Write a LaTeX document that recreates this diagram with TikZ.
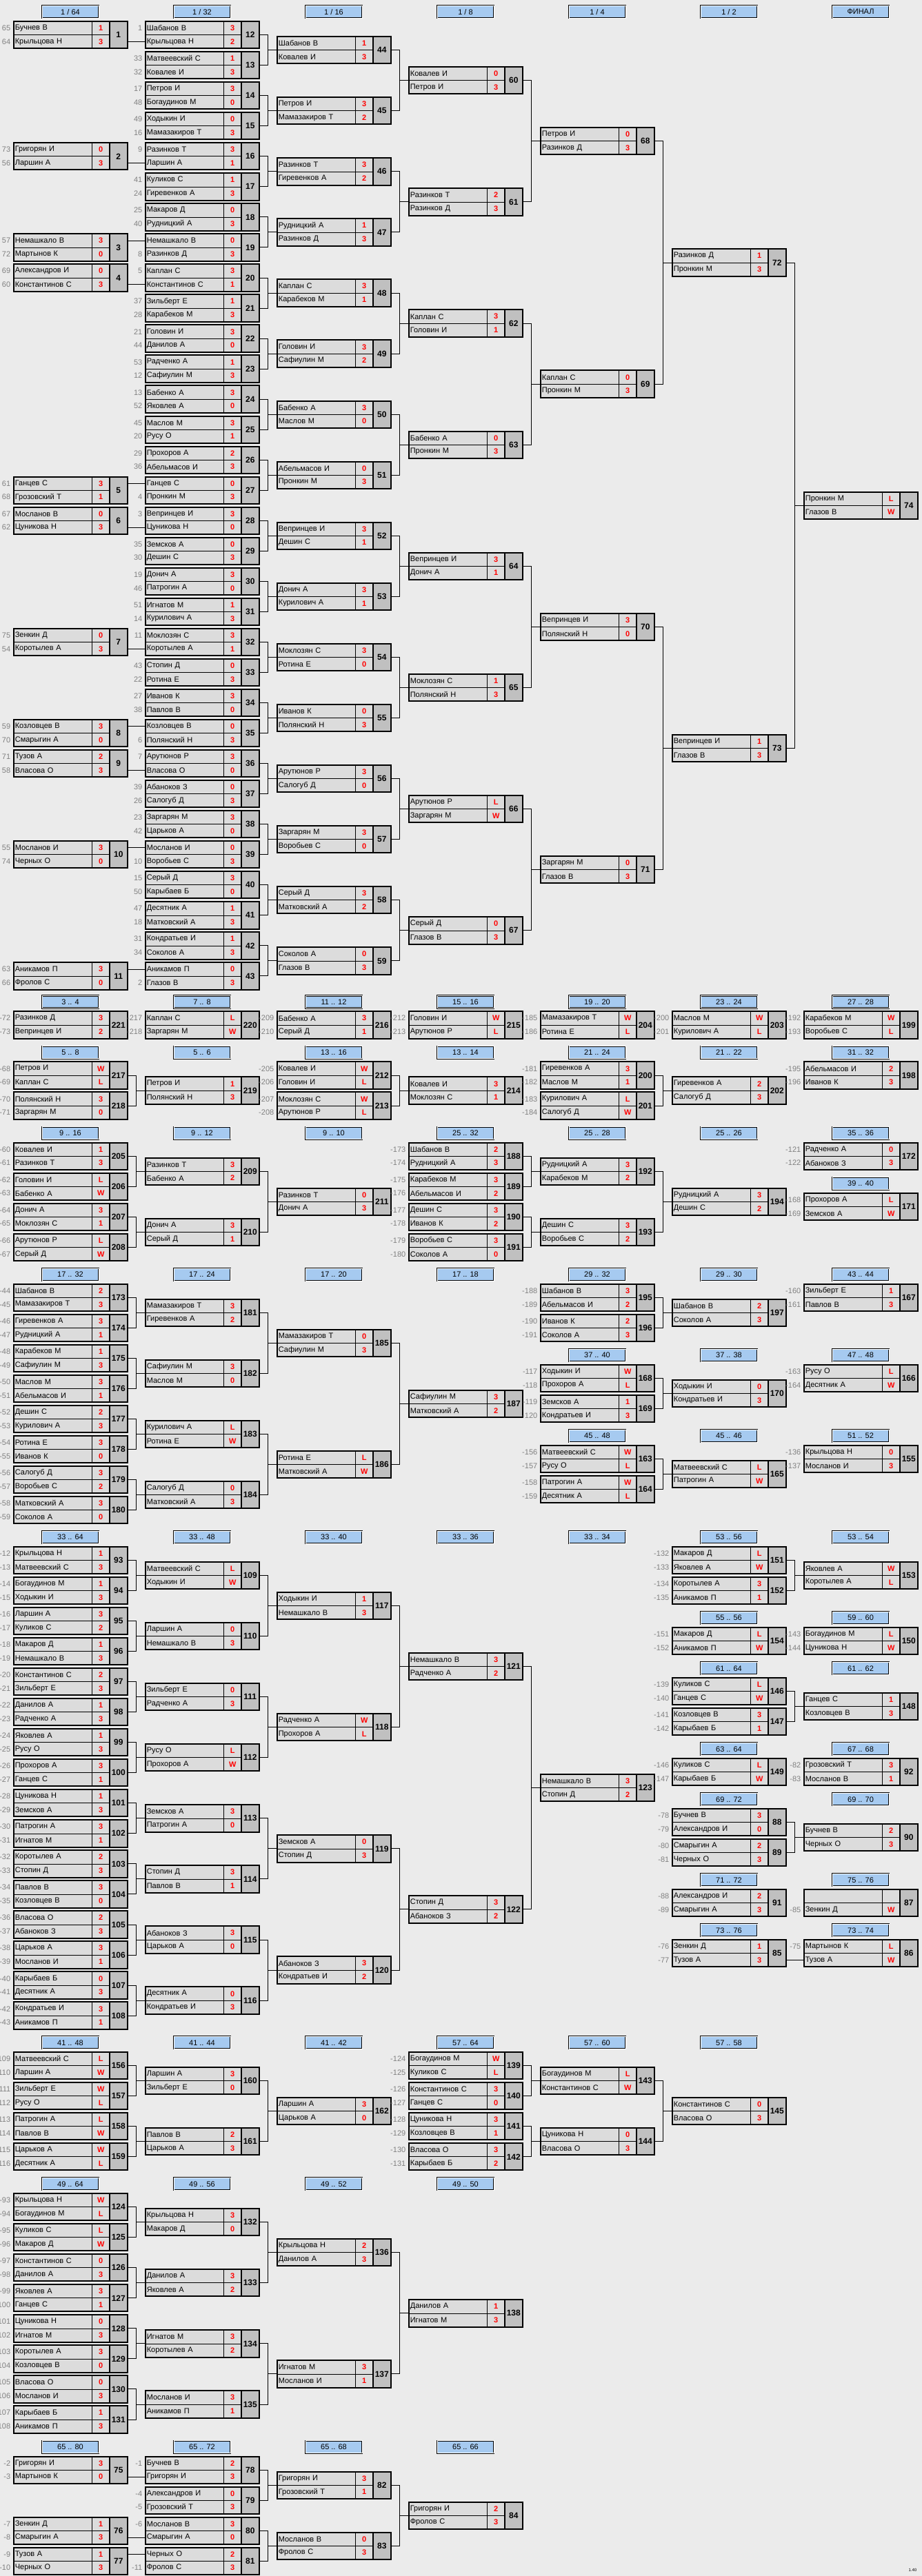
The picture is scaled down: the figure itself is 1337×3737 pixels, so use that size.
\documentclass[tikz,border=0pt]{standalone}
\usepackage{fontspec}
\setmainfont{Liberation Sans}
\usepackage{tikz}
\definecolor{bgcol}{RGB}{235,235,235}
\definecolor{cellgray}{RGB}{220,220,220}
\definecolor{numgray}{RGB}{192,192,192}
\definecolor{hdrblue}{RGB}{166,202,240}
\definecolor{seedgray}{RGB}{128,128,128}
\definecolor{scorered}{RGB}{255,0,0}
\newcommand{\namefont}{\fontsize{8.25}{9.5}\selectfont}
\newcommand{\scorefont}{\fontsize{8.25}{9.5}\selectfont\bfseries}
\newcommand{\numfont}{\fontsize{9}{10}\selectfont\bfseries}
\tikzset{
  mbox/.style={rectangle,inner sep=0pt,outer sep=0pt,minimum width=123.75pt,minimum height=29.5pt,fill=cellgray},
  ncell/.style={rectangle,draw=black,line width=0.5pt,fill=cellgray,inner xsep=1.75pt,inner ysep=0pt,outer sep=0pt,text width=82pt,align=left,minimum height=14.75pt,font=\namefont},
  scell/.style={rectangle,draw=black,line width=0.5pt,fill=cellgray,inner sep=0pt,outer sep=0pt,minimum width=19.1pt,minimum height=14.75pt,font=\scorefont,text=scorered},
  numcell/.style={rectangle,draw=black,line width=1.5pt,fill=numgray,inner sep=0pt,outer sep=0pt,minimum width=19.1pt,minimum height=29.5pt,font=\numfont},
  seedno/.style={inner sep=0pt,font=\namefont,text=seedgray},
  hdr/.style={rectangle,fill=hdrblue,draw=black,line width=0.45pt,double=white,double distance=0.7pt,minimum width=61.5pt,minimum height=13.5pt,inner sep=0pt,font=\namefont},
  conn/.style={draw=black,line width=0.7pt},
  frame/.style={draw=black,line width=1.5pt}
}
% one match: number, column, top, seed/name/score of both rows
\newcommand{\mbx}[9]{%
  \node[mbox,anchor=north west] (m#1) at ({19.5+191*#2},{#3}) {};
  \node[ncell,anchor=north west] (m#1a) at (m#1.north west) {#5};
  \node[ncell,anchor=north west] (m#1b) at (m#1a.south west) {#8};
  \node[scell,anchor=west] (m#1x) at (m#1a.east) {#6};
  \node[scell,anchor=west] (m#1y) at (m#1b.east) {#9};
  \node[numcell,anchor=north east] (m#1n) at (m#1.north east) {#1};
  \node[seedno,anchor=east,xshift=-3pt] (m#1p) at (m#1a.west) {#4};
  \node[seedno,anchor=east,xshift=-3pt] (m#1q) at (m#1b.west) {#7};
  \draw[frame] (m#1.north west) rectangle (m#1.south east);
}
\newcommand{\mblock}[2]{%
  \def\yo{#1}%
  \foreach \mN/\mC/\mS/\pA/\nA/\rA/\pB/\nB/\rB in {#2}{%
    \mbx{\mN}{\mC}{\yo+44.04*\mS}{\pA}{\nA}{\rA}{\pB}{\nB}{\rB}}%
}
\newcommand{\hrow}[3]{%
  \foreach \hC/\hT in {#3}{\node[hdr] (h#1\hC) at ({102+191*\hC},{#2-13.8}) {\hT};}%
}
\newcommand{\br}[3]{%
  \draw[conn] (m#1.east) -- ++(13,0) |- (m#3.west);
  \draw[conn] (m#2.east) -- ++(13,0) |- (m#3.west);
}
\newcommand{\brs}[3]{%
  \foreach \bk in {1,...,#2}{%
    \pgfmathtruncatemacro\brA{#1+2*(\bk-1)}%
    \pgfmathtruncatemacro\brB{\brA+1}%
    \pgfmathtruncatemacro\brT{#3+\bk-1}%
    \br{\brA}{\brB}{\brT}}%
}
\newcommand{\strt}[2]{\draw[conn] (m#1.east |- #2.west) -- (#2.west);}

\begin{document}
\begin{tikzpicture}[x=0.75pt,y=-0.75pt]
\path[use as bounding box,fill=bgcol] (0,0) rectangle (1337,3737);

% main bracket
\hrow{M}{31}{0/{1 / 64},1/{1 / 32},2/{1 / 16},3/{1 / 8},4/{1 / 4},5/{1 / 2},6/ФИНАЛ}
\mblock{31}{
1/0/0/65/Бучнев В/1/64/Крыльцова Н/3,
2/0/4/73/Григорян И/0/56/Ларшин А/3,
3/0/7/57/Немашкало В/3/72/Мартынов К/0,
4/0/8/69/Александров И/0/60/Константинов С/3,
5/0/15/61/Ганцев С/3/68/Грозовский Т/1,
6/0/16/67/Мосланов В/0/62/Цуникова Н/3,
7/0/20/75/Зенкин Д/0/54/Коротылев А/3,
8/0/23/59/Козловцев В/3/70/Смарыгин А/0,
9/0/24/71/Тузов А/2/58/Власова О/3,
10/0/27/55/Мосланов И/3/74/Черных О/0,
11/0/31/63/Аникамов П/3/66/Фролов С/0,
12/1/0/1/Шабанов В/3//Крыльцова Н/2,
13/1/1/33/Матвеевский С/1/32/Ковалев И/3,
14/1/2/17/Петров И/3/48/Богаудинов М/0,
15/1/3/49/Ходыкин И/0/16/Мамазакиров Т/3,
16/1/4/9/Разинков Т/3//Ларшин А/1,
17/1/5/41/Куликов С/1/24/Гиревенков А/3,
18/1/6/25/Макаров Д/0/40/Рудницкий А/3,
19/1/7//Немашкало В/0/8/Разинков Д/3,
20/1/8/5/Каплан С/3//Константинов С/1,
21/1/9/37/Зильберт Е/1/28/Карабеков М/3,
22/1/10/21/Головин И/3/44/Данилов А/0,
23/1/11/53/Радченко А/1/12/Сафиулин М/3,
24/1/12/13/Бабенко А/3/52/Яковлев А/0,
25/1/13/45/Маслов М/3/20/Русу О/1,
26/1/14/29/Прохоров А/2/36/Абельмасов И/3,
27/1/15//Ганцев С/0/4/Пронкин М/3,
28/1/16/3/Вепринцев И/3//Цуникова Н/0,
29/1/17/35/Земсков А/0/30/Дешин С/3,
30/1/18/19/Донич А/3/46/Патрогин А/0,
31/1/19/51/Игнатов М/1/14/Курилович А/3,
32/1/20/11/Моклозян С/3//Коротылев А/1,
33/1/21/43/Стопин Д/0/22/Ротина Е/3,
34/1/22/27/Иванов К/3/38/Павлов В/0,
35/1/23//Козловцев В/0/6/Полянский Н/3,
36/1/24/7/Арутюнов Р/3//Власова О/0,
37/1/25/39/Абаноков З/0/26/Салогуб Д/3,
38/1/26/23/Заргарян М/3/42/Царьков А/0,
39/1/27//Мосланов И/0/10/Воробьев С/3,
40/1/28/15/Серый Д/3/50/Карыбаев Б/0,
41/1/29/47/Десятник А/1/18/Матковский А/3,
42/1/30/31/Кондратьев И/1/34/Соколов А/3,
43/1/31//Аникамов П/0/2/Глазов В/3,
44/2/0.5//Шабанов В/1//Ковалев И/3,
45/2/2.5//Петров И/3//Мамазакиров Т/2,
46/2/4.5//Разинков Т/3//Гиревенков А/2,
47/2/6.5//Рудницкий А/1//Разинков Д/3,
48/2/8.5//Каплан С/3//Карабеков М/1,
49/2/10.5//Головин И/3//Сафиулин М/2,
50/2/12.5//Бабенко А/3//Маслов М/0,
51/2/14.5//Абельмасов И/0//Пронкин М/3,
52/2/16.5//Вепринцев И/3//Дешин С/1,
53/2/18.5//Донич А/3//Курилович А/1,
54/2/20.5//Моклозян С/3//Ротина Е/0,
55/2/22.5//Иванов К/0//Полянский Н/3,
56/2/24.5//Арутюнов Р/3//Салогуб Д/0,
57/2/26.5//Заргарян М/3//Воробьев С/0,
58/2/28.5//Серый Д/3//Матковский А/2,
59/2/30.5//Соколов А/0//Глазов В/3,
60/3/1.5//Ковалев И/0//Петров И/3,
61/3/5.5//Разинков Т/2//Разинков Д/3,
62/3/9.5//Каплан С/3//Головин И/1,
63/3/13.5//Бабенко А/0//Пронкин М/3,
64/3/17.5//Вепринцев И/3//Донич А/1,
65/3/21.5//Моклозян С/1//Полянский Н/3,
66/3/25.5//Арутюнов Р/L//Заргарян М/W,
67/3/29.5//Серый Д/0//Глазов В/3,
68/4/3.5//Петров И/0//Разинков Д/3,
69/4/11.5//Каплан С/0//Пронкин М/3,
70/4/19.5//Вепринцев И/3//Полянский Н/0,
71/4/27.5//Заргарян М/0//Глазов В/3,
72/5/7.5//Разинков Д/1//Пронкин М/3,
73/5/23.5//Вепринцев И/1//Глазов В/3,
74/6/15.5//Пронкин М/L//Глазов В/W}
\strt{1}{m12b} \strt{2}{m16b} \strt{3}{m19a} \strt{4}{m20b}
\strt{5}{m27a} \strt{6}{m28b} \strt{7}{m32b} \strt{8}{m35a}
\strt{9}{m36b} \strt{10}{m39a} \strt{11}{m43a}
\brs{12}{16}{44} \brs{44}{8}{60} \brs{60}{4}{68} \brs{68}{2}{72} \br{72}{73}{74}

% places 3..40
\hrow{A}{1467.3}{0/{3 .. 4},1/{7 .. 8},2/{11 .. 12},3/{15 .. 16},4/{19 .. 20},5/{23 .. 24},6/{27 .. 28}}
\mblock{1467.3}{
221/0/0/-72/Разинков Д/3/-73/Вепринцев И/2,
220/1/0/-217/Каплан С/L/-218/Заргарян М/W,
216/2/0/-209/Бабенко А/3/-210/Серый Д/1,
215/3/0/-212/Головин И/W/-213/Арутюнов Р/L,
204/4/0/-185/Мамазакиров Т/W/-186/Ротина Е/L,
203/5/0/-200/Маслов М/W/-201/Курилович А/L,
199/6/0/-192/Карабеков М/W/-193/Воробьев С/L}

\hrow{B}{1540.4}{0/{5 .. 8},1/{5 .. 6},2/{13 .. 16},3/{13 .. 14},4/{21 .. 24},5/{21 .. 22},6/{31 .. 32}}
\mblock{1540.4}{
217/0/0/-68/Петров И/W/-69/Каплан С/L,
218/0/1/-70/Полянский Н/3/-71/Заргарян М/0,
219/1/0.5//Петров И/1//Полянский Н/3,
212/2/0/-205/Ковалев И/W/-206/Головин И/L,
213/2/1/-207/Моклозян С/W/-208/Арутюнов Р/L,
214/3/0.5//Ковалев И/3//Моклозян С/1,
200/4/0/-181/Гиревенков А/3/-182/Маслов М/1,
201/4/1/-183/Курилович А/L/-184/Салогуб Д/W,
202/5/0.5//Гиревенков А/2//Салогуб Д/3,
198/6/0/-195/Абельмасов И/2/-196/Иванов К/3}
\br{217}{218}{219} \br{212}{213}{214} \br{200}{201}{202}

\hrow{C}{1657.6}{0/{9 .. 16},1/{9 .. 12},2/{9 .. 10},3/{25 .. 32},4/{25 .. 28},5/{25 .. 26},6/{35 .. 36}}
\mblock{1657.6}{
205/0/0/-60/Ковалев И/1/-61/Разинков Т/3,
206/0/1/-62/Головин И/L/-63/Бабенко А/W,
207/0/2/-64/Донич А/3/-65/Моклозян С/1,
208/0/3/-66/Арутюнов Р/L/-67/Серый Д/W,
209/1/0.5//Разинков Т/3//Бабенко А/2,
210/1/2.5//Донич А/3//Серый Д/1,
211/2/1.5//Разинков Т/0//Донич А/3,
188/3/0/-173/Шабанов В/2/-174/Рудницкий А/3,
189/3/1/-175/Карабеков М/3/-176/Абельмасов И/2,
190/3/2/-177/Дешин С/3/-178/Иванов К/2,
191/3/3/-179/Воробьев С/3/-180/Соколов А/0,
192/4/0.5//Рудницкий А/3//Карабеков М/2,
193/4/2.5//Дешин С/3//Воробьев С/2,
194/5/1.5//Рудницкий А/3//Дешин С/2,
172/6/0/-121/Радченко А/0/-122/Абаноков З/3}
\brs{205}{2}{209} \br{209}{210}{211} \brs{188}{2}{192} \br{192}{193}{194}

\hrow{Cb}{1730.7}{6/{39 .. 40}}
\mblock{1730.7}{171/6/0/-168/Прохоров А/L/-169/Земсков А/W}

\hrow{D}{1862.8}{0/{17 .. 32},1/{17 .. 24},2/{17 .. 20},3/{17 .. 18},4/{29 .. 32},5/{29 .. 30},6/{43 .. 44}}
\mblock{1862.8}{
173/0/0/-44/Шабанов В/2/-45/Мамазакиров Т/3,
174/0/1/-46/Гиревенков А/3/-47/Рудницкий А/1,
175/0/2/-48/Карабеков М/1/-49/Сафиулин М/3,
176/0/3/-50/Маслов М/3/-51/Абельмасов И/1,
177/0/4/-52/Дешин С/2/-53/Курилович А/3,
178/0/5/-54/Ротина Е/3/-55/Иванов К/0,
179/0/6/-56/Салогуб Д/3/-57/Воробьев С/2,
180/0/7/-58/Матковский А/3/-59/Соколов А/0,
181/1/0.5//Мамазакиров Т/3//Гиревенков А/2,
182/1/2.5//Сафиулин М/3//Маслов М/0,
183/1/4.5//Курилович А/L//Ротина Е/W,
184/1/6.5//Салогуб Д/0//Матковский А/3,
185/2/1.5//Мамазакиров Т/0//Сафиулин М/3,
186/2/5.5//Ротина Е/L//Матковский А/W,
187/3/3.5//Сафиулин М/3//Матковский А/2,
195/4/0/-188/Шабанов В/3/-189/Абельмасов И/2,
196/4/1/-190/Иванов К/2/-191/Соколов А/3,
197/5/0.5//Шабанов В/2//Соколов А/3,
167/6/0/-160/Зильберт Е/1/-161/Павлов В/3}
\brs{173}{4}{181} \brs{181}{2}{185} \br{185}{186}{187} \br{195}{196}{197}

\hrow{Db}{1979.8}{4/{37 .. 40},5/{37 .. 38},6/{47 .. 48}}
\mblock{1979.8}{
168/4/0/-117/Ходыкин И/W/-118/Прохоров А/L,
169/4/1/-119/Земсков А/1/-120/Кондратьев И/3,
170/5/0.5//Ходыкин И/0//Кондратьев И/3,
166/6/0/-163/Русу О/L/-164/Десятник А/W}
\br{168}{169}{170}

\hrow{Dc}{2096.8}{4/{45 .. 48},5/{45 .. 46},6/{51 .. 52}}
\mblock{2096.8}{
163/4/0/-156/Матвеевский С/W/-157/Русу О/L,
164/4/1/-158/Патрогин А/W/-159/Десятник А/L,
165/5/0.5//Матвеевский С/L//Патрогин А/W,
155/6/0/-136/Крыльцова Н/0/-137/Мосланов И/3}
\br{163}{164}{165}

% places 33..76
\hrow{E}{2243.8}{0/{33 .. 64},1/{33 .. 48},2/{33 .. 40},3/{33 .. 36},4/{33 .. 34},5/{53 .. 56},6/{53 .. 54}}
\mblock{2243.8}{
93/0/0/-12/Крыльцова Н/1/-13/Матвеевский С/3,
94/0/1/-14/Богаудинов М/1/-15/Ходыкин И/3,
95/0/2/-16/Ларшин А/3/-17/Куликов С/2,
96/0/3/-18/Макаров Д/1/-19/Немашкало В/3,
97/0/4/-20/Константинов С/2/-21/Зильберт Е/3,
98/0/5/-22/Данилов А/1/-23/Радченко А/3,
99/0/6/-24/Яковлев А/1/-25/Русу О/3,
100/0/7/-26/Прохоров А/3/-27/Ганцев С/1,
101/0/8/-28/Цуникова Н/1/-29/Земсков А/3,
102/0/9/-30/Патрогин А/3/-31/Игнатов М/1,
103/0/10/-32/Коротылев А/2/-33/Стопин Д/3,
104/0/11/-34/Павлов В/3/-35/Козловцев В/0,
105/0/12/-36/Власова О/2/-37/Абаноков З/3,
106/0/13/-38/Царьков А/3/-39/Мосланов И/1,
107/0/14/-40/Карыбаев Б/0/-41/Десятник А/3,
108/0/15/-42/Кондратьев И/3/-43/Аникамов П/1,
109/1/0.5//Матвеевский С/L//Ходыкин И/W,
110/1/2.5//Ларшин А/0//Немашкало В/3,
111/1/4.5//Зильберт Е/0//Радченко А/3,
112/1/6.5//Русу О/L//Прохоров А/W,
113/1/8.5//Земсков А/3//Патрогин А/0,
114/1/10.5//Стопин Д/3//Павлов В/1,
115/1/12.5//Абаноков З/3//Царьков А/0,
116/1/14.5//Десятник А/0//Кондратьев И/3,
117/2/1.5//Ходыкин И/1//Немашкало В/3,
118/2/5.5//Радченко А/W//Прохоров А/L,
119/2/9.5//Земсков А/0//Стопин Д/3,
120/2/13.5//Абаноков З/3//Кондратьев И/2,
121/3/3.5//Немашкало В/3//Радченко А/2,
122/3/11.5//Стопин Д/3//Абаноков З/2,
123/4/7.5//Немашкало В/3//Стопин Д/2,
151/5/0/-132/Макаров Д/L/-133/Яковлев А/W,
152/5/1/-134/Коротылев А/3/-135/Аникамов П/1,
153/6/0.5//Яковлев А/W//Коротылев А/L}
\brs{93}{8}{109} \brs{109}{4}{117} \brs{117}{2}{121} \br{121}{122}{123} \br{151}{152}{153}

\hrow{Eb}{2360.9}{5/{55 .. 56},6/{59 .. 60}}
\mblock{2360.9}{
154/5/0/-151/Макаров Д/L/-152/Аникамов П/W,
150/6/0/-143/Богаудинов М/L/-144/Цуникова Н/W}

\hrow{Ec}{2434}{5/{61 .. 64},6/{61 .. 62}}
\mblock{2434}{
146/5/0/-139/Куликов С/L/-140/Ганцев С/W,
147/5/1/-141/Козловцев В/3/-142/Карыбаев Б/1,
148/6/0.5//Ганцев С/1//Козловцев В/3}
\br{146}{147}{148}

\hrow{Ed}{2551}{5/{63 .. 64},6/{67 .. 68}}
\mblock{2551}{
149/5/0/-146/Куликов С/L/-147/Карыбаев Б/W,
92/6/0/-82/Грозовский Т/3/-83/Мосланов В/1}

\hrow{Ee}{2624}{5/{69 .. 72},6/{69 .. 70}}
\mblock{2624}{
88/5/0/-78/Бучнев В/3/-79/Александров И/0,
89/5/1/-80/Смарыгин А/2/-81/Черных О/3,
90/6/0.5//Бучнев В/2//Черных О/3}
\br{88}{89}{90}

\hrow{Ef}{2741}{5/{71 .. 72},6/{75 .. 76}}
\mblock{2741}{
91/5/0/-88/Александров И/2/-89/Смарыгин А/3,
87/6/0////-85/Зенкин Д/W}

\hrow{Eg}{2814}{5/{73 .. 76},6/{73 .. 74}}
\mblock{2814}{
85/5/0/-76/Зенкин Д/1/-77/Тузов А/3,
86/6/0/-75/Мартынов К/L//Тузов А/W}
\strt{85}{m86b}

\hrow{F}{2977}{0/{41 .. 48},1/{41 .. 44},2/{41 .. 42},3/{57 .. 64},4/{57 .. 60},5/{57 .. 58}}
\mblock{2977}{
156/0/0/-109/Матвеевский С/L/-110/Ларшин А/W,
157/0/1/-111/Зильберт Е/W/-112/Русу О/L,
158/0/2/-113/Патрогин А/L/-114/Павлов В/W,
159/0/3/-115/Царьков А/W/-116/Десятник А/L,
160/1/0.5//Ларшин А/3//Зильберт Е/0,
161/1/2.5//Павлов В/2//Царьков А/3,
162/2/1.5//Ларшин А/3//Царьков А/0,
139/3/0/-124/Богаудинов М/W/-125/Куликов С/L,
140/3/1/-126/Константинов С/3/-127/Ганцев С/0,
141/3/2/-128/Цуникова Н/3/-129/Козловцев В/1,
142/3/3/-130/Власова О/3/-131/Карыбаев Б/2,
143/4/0.5//Богаудинов М/L//Константинов С/W,
144/4/2.5//Цуникова Н/0//Власова О/3,
145/5/1.5//Константинов С/0//Власова О/3}
\brs{156}{2}{160} \br{160}{161}{162} \brs{139}{2}{143} \br{143}{144}{145}

\hrow{G}{3182}{0/{49 .. 64},1/{49 .. 56},2/{49 .. 52},3/{49 .. 50}}
\mblock{3182}{
124/0/0/-93/Крыльцова Н/W/-94/Богаудинов М/L,
125/0/1/-95/Куликов С/L/-96/Макаров Д/W,
126/0/2/-97/Константинов С/0/-98/Данилов А/3,
127/0/3/-99/Яковлев А/3/-100/Ганцев С/1,
128/0/4/-101/Цуникова Н/0/-102/Игнатов М/3,
129/0/5/-103/Коротылев А/3/-104/Козловцев В/0,
130/0/6/-105/Власова О/0/-106/Мосланов И/3,
131/0/7/-107/Карыбаев Б/1/-108/Аникамов П/3,
132/1/0.5//Крыльцова Н/3//Макаров Д/0,
133/1/2.5//Данилов А/3//Яковлев А/2,
134/1/4.5//Игнатов М/3//Коротылев А/2,
135/1/6.5//Мосланов И/3//Аникамов П/1,
136/2/1.5//Крыльцова Н/2//Данилов А/3,
137/2/5.5//Игнатов М/3//Мосланов И/1,
138/3/3.5//Данилов А/1//Игнатов М/3}
\brs{124}{4}{132} \brs{132}{2}{136} \br{136}{137}{138}

\hrow{H}{3563.5}{0/{65 .. 80},1/{65 .. 72},2/{65 .. 68},3/{65 .. 66}}
\mblock{3563.5}{
75/0/0/-2/Григорян И/3/-3/Мартынов К/0,
76/0/2/-7/Зенкин Д/1/-8/Смарыгин А/3,
77/0/3/-9/Тузов А/1/-10/Черных О/3,
78/1/0/-1/Бучнев В/2//Григорян И/3,
79/1/1/-4/Александров И/0/-5/Грозовский Т/3,
80/1/2/-6/Мосланов В/3//Смарыгин А/0,
81/1/3//Черных О/2/-11/Фролов С/3,
82/2/0.5//Григорян И/3//Грозовский Т/1,
83/2/2.5//Мосланов В/0//Фролов С/3,
84/3/1.5//Григорян И/2//Фролов С/3}
\strt{75}{m78b} \strt{76}{m80b} \strt{77}{m81a}
\brs{78}{2}{82} \br{82}{83}{84}

\node[font=\fontsize{4.5}{5}\selectfont,anchor=south east] (ver) at (1334,3735) {1.40};
\end{tikzpicture}
\end{document}
